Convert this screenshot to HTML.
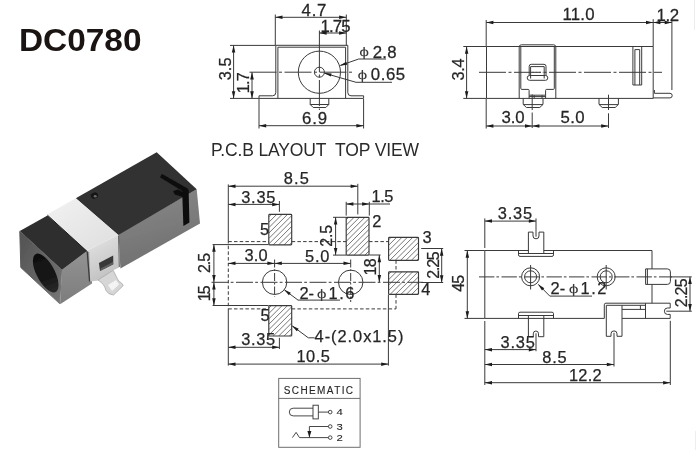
<!DOCTYPE html>
<html lang="en"><head><meta charset="utf-8"><title>DC0780</title>
<style>
html,body{margin:0;padding:0;background:#fff;}
body{width:700px;height:450px;overflow:hidden;}
svg{display:block;will-change:transform;}
text{white-space:pre;}
</style></head>
<body>
<svg width="700" height="450" viewBox="0 0 700 450">
<rect width="700" height="450" fill="#fff"/>
<g font-family="'Liberation Sans', sans-serif">
<text transform="translate(18.90 51.30) scale(1.045 1)" font-size="32" font-weight="bold" fill="#1a1412">DC0780</text>
<text transform="translate(210.97 155.60)" font-size="17.5" textLength="208.05" fill="#2a2a2a">P.C.B LAYOUT  TOP VIEW</text>
</g>
<defs>
<linearGradient id="gf" x1="0" y1="0" x2="1" y2="1"><stop offset="0" stop-color="#525252"/><stop offset="1" stop-color="#767676"/></linearGradient>
<linearGradient id="gs1" x1="0" y1="0" x2="0" y2="1"><stop offset="0" stop-color="#939393"/><stop offset="1" stop-color="#7c7c7c"/></linearGradient>
<linearGradient id="gs2" x1="0" y1="0" x2="0.3" y2="1"><stop offset="0" stop-color="#8a8a8a"/><stop offset="1" stop-color="#707070"/></linearGradient>
<linearGradient id="gb" x1="0" y1="0" x2="1" y2="1"><stop offset="0" stop-color="#f2f2f2"/><stop offset="1" stop-color="#dedede"/></linearGradient>
<linearGradient id="gbs" x1="0" y1="0" x2="0.4" y2="1"><stop offset="0" stop-color="#e6e6e6"/><stop offset="1" stop-color="#c2c2c2"/></linearGradient>
<linearGradient id="gh" x1="0" y1="0" x2="1" y2="1"><stop offset="0" stop-color="#0c0c0c"/><stop offset="0.6" stop-color="#181818"/><stop offset="1" stop-color="#343434"/></linearGradient>
<filter id="bl" x="-5%" y="-5%" width="110%" height="110%"><feGaussianBlur stdDeviation="0.45"/></filter>
</defs>
<g filter="url(#bl)">
<polygon points="118.5,234 196.7,189.3 200,223.5 120.4,268.5" fill="url(#gs2)"/>
<polygon points="75.8,198.3 156.7,152.2 196.7,189.3 118.3,235" fill="#303030"/>
<polygon points="160,177.3 162,173.9 188,188.8 186,193.2" fill="#0c0c0c"/>
<polygon points="182.2,192 188.6,189.2 189.4,222.6 183.4,226" fill="#0c0c0c"/>
<polygon points="173,191.2 178,189.5 186,193.6 182.2,196.8 175,194.6" fill="#0c0c0c"/>
<ellipse cx="94.4" cy="195.6" rx="3.6" ry="3" fill="#151515" transform="rotate(-25 94.4 195.6)"/>
<ellipse cx="95.2" cy="196.2" rx="1.5" ry="1.2" fill="#6a6a6a"/>
<polygon points="61.8,270 87,251 92,252 92,283.5 60.1,304.2" fill="url(#gs1)"/>
<polygon points="19.8,231 47.5,215.5 87,251 61.8,270" fill="#2f2f2f"/>
<polygon points="19.8,231.3 61.5,269.6 59.6,303.6 20.8,267.5" fill="url(#gf)" stroke="url(#gf)" stroke-width="1" stroke-linejoin="round"/>
<circle cx="0" cy="0" r="1" transform="matrix(12.8 11.6 0.4 15.6 45.7 273)" fill="url(#gh)"/>
<polygon points="86.7,250.8 118.3,235 119,267.4 113.2,270.3 98,280.5 90,281.5 89.2,252" fill="url(#gbs)"/>
<polygon points="47.5,214.2 75.8,198.3 118.3,235 86.7,250.8" fill="url(#gb)"/>
<path d="M87.2,251.5 L89.6,281.5" stroke="#3a3a3a" stroke-width="1.3" fill="none"/>
<path d="M47.5,215.2 L87,251.3" stroke="#1e1e1e" stroke-width="1" fill="none"/>
<path d="M118.6,235.5 L119.3,267" stroke="#555" stroke-width="1" fill="none"/>
<polygon points="98.9,263 113.2,255.5 113.3,264.3 100,271.1" fill="#383838"/>
<polygon points="101,268.2 113,262 113.3,264.2 100,271" fill="#5e5e5e"/>
<path d="M98,280 L113.2,270.3 L116.7,277.4 Q118,281.5 122,283.5 L123.2,285.6 L113.5,295 Q108,294.5 106,290.5 Q104.5,284 98,280 Z" fill="#d6d6d6" stroke="#a8a8a8" stroke-width="0.8"/>
<path d="M108,285 L116,280 L119,284.5 L112,291 Z" fill="#f4f4f4"/>
</g>
<g stroke="#3a3a3a" stroke-width="1" fill="none" stroke-linecap="butt">
<line x1="275.3" y1="14.5" x2="275.3" y2="45.5"/>
<line x1="346.3" y1="14.5" x2="346.3" y2="45.5"/>
<line x1="275.3" y1="17.3" x2="346.3" y2="17.3"/>
<polygon points="275.3,17.3 282.5,15.6 282.5,19.1" fill="#1c1c1c" stroke="none"/>
<polygon points="346.3,17.3 339.1,15.6 339.1,19.1" fill="#1c1c1c" stroke="none"/>
<line x1="319.4" y1="30.5" x2="319.4" y2="46"/>
<line x1="319.4" y1="33" x2="346.3" y2="33"/>
<polygon points="319.4,33.0 326.6,31.2 326.6,34.8" fill="#1c1c1c" stroke="none"/>
<polygon points="346.3,33.0 339.1,31.2 339.1,34.8" fill="#1c1c1c" stroke="none"/>
<path d="M259,95.8 H272.5 Q275.8,95.8 275.8,92.5 V45.3 H347.8 V92.5 Q347.8,95.8 351,95.8 H363.6 V98.4 H259 Z"/>
<path d="M277.9,98.4 V47.2 H345.6 V98.4"/>
<circle cx="319.4" cy="72.2" r="21.1"/>
<circle cx="319.4" cy="72.2" r="5"/>
<line x1="249.5" y1="72.2" x2="354" y2="72.2" stroke-dasharray="27 2.5 3 2.5"/>
<line x1="319.4" y1="46" x2="319.4" y2="110" stroke-dasharray="26 2.5 3 2.5"/>
<path d="M310.2,98.4 V104.5 L313.2,107.5 H325.8 L328.8,104.5 V98.4 M310.2,104.5 H328.8"/>
<line x1="230" y1="45.4" x2="275.5" y2="45.4"/>
<line x1="230" y1="98.4" x2="259" y2="98.4"/>
<line x1="233.6" y1="45.4" x2="233.6" y2="98.4"/>
<polygon points="233.6,45.4 231.8,52.6 235.3,52.6" fill="#1c1c1c" stroke="none"/>
<polygon points="233.6,98.4 231.8,91.2 235.3,91.2" fill="#1c1c1c" stroke="none"/>
<line x1="252" y1="72.2" x2="252" y2="98.4"/>
<polygon points="252.0,72.2 250.2,79.4 253.8,79.4" fill="#1c1c1c" stroke="none"/>
<polygon points="252.0,98.4 250.2,91.2 253.8,91.2" fill="#1c1c1c" stroke="none"/>
<line x1="259" y1="99" x2="259" y2="128.5"/>
<line x1="363.6" y1="99" x2="363.6" y2="128.5"/>
<line x1="259" y1="125.7" x2="363.6" y2="125.7"/>
<polygon points="259.0,125.7 266.2,124.0 266.2,127.5" fill="#1c1c1c" stroke="none"/>
<polygon points="363.6,125.7 356.4,124.0 356.4,127.5" fill="#1c1c1c" stroke="none"/>
<path d="M386,59 H358.7 L340.4,65.4"/>
<polygon points="339.6,65.7 346.2,61.7 347.2,64.7" fill="#1c1c1c" stroke="none"/>
<path d="M392,82.3 H356 L324.5,73.2"/>
<polygon points="324.0,73.0 331.6,73.5 330.8,76.6" fill="#1c1c1c" stroke="none"/>
<line x1="486.2" y1="20" x2="486.2" y2="46"/>
<line x1="653.2" y1="19.2" x2="653.2" y2="46.5"/>
<line x1="671.9" y1="19.2" x2="671.9" y2="90"/>
<line x1="486.2" y1="22.5" x2="671.9" y2="22.5"/>
<polygon points="486.2,22.5 493.4,20.8 493.4,24.2" fill="#1c1c1c" stroke="none"/>
<polygon points="653.2,22.5 646.0,20.8 646.0,24.2" fill="#1c1c1c" stroke="none"/>
<polygon points="653.2,22.5 660.4,20.8 660.4,24.2" fill="#1c1c1c" stroke="none"/>
<polygon points="671.9,22.5 664.7,20.8 664.7,24.2" fill="#1c1c1c" stroke="none"/>
<path d="M486.5,46.5 H653.2 V98.4 H486.5 Z"/>
<path d="M519.2,98.4 V47 Q519.2,44.8 521.4,44.8 H553.6 Q555.8,44.8 555.8,47 V98.4"/>
<path d="M520.8,46.5 V88.4 Q520.8,89.4 521.8,89.4 H528.1 Q529.1,89.4 529.1,90.4 V95.2"/>
<path d="M554.3,46.5 V88.4 Q554.3,89.4 553.3,89.4 H546.6 Q545.6,89.4 545.6,90.4 V95.2"/>
<path d="M529.2,75.5 V66.3 Q529.2,64.3 531.2,64.3 H544 Q546,64.3 546,66.3 V75.5"/>
<path d="M529.6,75.5 H545.6 Q547.8,75.5 547.8,77.9 Q547.8,80.3 545.6,80.3 H529.6 Q527.2,80.3 527.2,77.9 Q527.2,75.5 529.6,75.5 Z"/>
<path d="M530.6,78.5 V66.6 H544.2 V78.5"/>
<line x1="532" y1="72.3" x2="543" y2="72.3" stroke="#999" stroke-dasharray="2 1.5"/>
<path d="M523.2,98.4 V104.4 L526.4000000000001,107.5 H539.8 L543,104.4 V98.4 M523.2,104.6 H543"/>
<path d="M529.1,95.2 H545.6 M529.1,95.2 V98.4 M545.6,95.2 V98.4 M534.2,95.2 V98.4 M542,95.2 V98.4 M529.1,96.6 H545.6"/>
<path d="M599,98.4 V104.4 L602.2,107.5 H615.1999999999999 L618.4,104.4 V98.4 M599,104.6 H618.4"/>
<path d="M632.9,46.5 V85 H641.7 V46.5 M634.9,85 V49.6 H639.7 V85"/>
<path d="M654.4,90 V93.3 H670 Q672.2,93.3 672.2,95.6 Q672.2,97.9 670,97.9 H653.2"/>
<line x1="479" y1="72.3" x2="662" y2="72.3" stroke-dasharray="27 2.5 3 2.5"/>
<line x1="532.2" y1="94.4" x2="532.2" y2="110"/>
<line x1="532.2" y1="112.5" x2="532.2" y2="128"/>
<line x1="608.5" y1="94.7" x2="608.5" y2="110"/>
<line x1="608.5" y1="113.3" x2="608.5" y2="128"/>
<line x1="463.3" y1="46.5" x2="486.5" y2="46.5"/>
<line x1="463.3" y1="98.4" x2="486.5" y2="98.4"/>
<line x1="466.6" y1="46.5" x2="466.6" y2="98.4"/>
<polygon points="466.6,46.5 464.9,53.7 468.4,53.7" fill="#1c1c1c" stroke="none"/>
<polygon points="466.6,98.4 464.9,91.2 468.4,91.2" fill="#1c1c1c" stroke="none"/>
<line x1="486.2" y1="99" x2="486.2" y2="128.5"/>
<line x1="486.2" y1="126" x2="608.4" y2="126"/>
<polygon points="486.2,126.0 493.4,124.2 493.4,127.8" fill="#1c1c1c" stroke="none"/>
<polygon points="532.2,126.0 525.0,124.2 525.0,127.8" fill="#1c1c1c" stroke="none"/>
<polygon points="532.2,126.0 539.4,124.2 539.4,127.8" fill="#1c1c1c" stroke="none"/>
<polygon points="608.4,126.0 601.2,124.2 601.2,127.8" fill="#1c1c1c" stroke="none"/>
<path d="M268.8,216.9 L271.3,214.4 M268.8,222.3 L276.7,214.4 M268.8,227.7 L282.1,214.4 M268.8,233.1 L287.5,214.4 M268.8,238.5 L291.7,215.6 M268.8,243.9 L291.7,221.0 M273.2,244.9 L291.7,226.4 M278.6,244.9 L291.7,231.8 M284.0,244.9 L291.7,237.2 M289.4,244.9 L291.7,242.6" stroke-width="0.75" stroke="#4a4a4a"/>
<rect x="268.8" y="214.4" width="22.9" height="30.5" rx="0.8" stroke-width="1.15"/>
<path d="M346.2,219.8 L348.7,217.3 M346.2,225.2 L354.1,217.3 M346.2,230.6 L359.5,217.3 M346.2,236.0 L364.9,217.3 M346.2,241.4 L369.0,218.6 M346.2,246.8 L369.0,224.0 M346.2,252.2 L369.0,229.4 M348.7,255.1 L369.0,234.8 M354.1,255.1 L369.0,240.2 M359.5,255.1 L369.0,245.6 M364.9,255.1 L369.0,251.0" stroke-width="0.75" stroke="#4a4a4a"/>
<rect x="346.2" y="217.3" width="22.8" height="37.8" rx="0.8" stroke-width="1.15"/>
<path d="M388.6,239.9 L391.1,237.4 M388.6,245.3 L396.5,237.4 M388.6,250.7 L401.9,237.4 M388.6,256.1 L407.3,237.4 M389.8,260.3 L412.7,237.4 M395.2,260.3 L418.1,237.4 M400.6,260.3 L418.5,242.4 M406.0,260.3 L418.5,247.8 M411.4,260.3 L418.5,253.2 M416.8,260.3 L418.5,258.6" stroke-width="0.75" stroke="#4a4a4a"/>
<rect x="388.6" y="237.4" width="29.9" height="22.9" rx="0.8" stroke-width="1.15"/>
<path d="M388.6,274.3 L391.1,271.8 M388.6,279.7 L396.5,271.8 M388.6,285.1 L401.9,271.8 M388.6,290.5 L407.3,271.8 M390.1,294.4 L412.7,271.8 M395.5,294.4 L418.1,271.8 M400.9,294.4 L418.5,276.8 M406.3,294.4 L418.5,282.2 M411.7,294.4 L418.5,287.6 M417.1,294.4 L418.5,293.0" stroke-width="0.75" stroke="#4a4a4a"/>
<rect x="388.6" y="271.8" width="29.9" height="22.6" rx="0.8" stroke-width="1.15"/>
<path d="M268.8,308.1 L271.3,305.6 M268.8,313.5 L276.7,305.6 M268.8,318.9 L282.1,305.6 M268.8,324.3 L287.5,305.6 M268.8,329.7 L291.7,306.8 M268.8,335.1 L291.7,312.2 M273.3,336.0 L291.7,317.6 M278.7,336.0 L291.7,323.0 M284.1,336.0 L291.7,328.4 M289.5,336.0 L291.7,333.8" stroke-width="0.75" stroke="#4a4a4a"/>
<rect x="268.8" y="305.6" width="22.9" height="30.4" rx="0.8" stroke-width="1.15"/>
<line x1="228.3" y1="184.4" x2="228.3" y2="240"/>
<line x1="228.3" y1="240" x2="228.3" y2="311" stroke-dasharray="3.5 2.2"/>
<line x1="228.3" y1="311" x2="228.3" y2="365.6"/>
<line x1="228.3" y1="241.6" x2="268.8" y2="241.6" stroke-dasharray="3.5 2.2"/>
<line x1="291.7" y1="241.6" x2="346" y2="241.6" stroke-dasharray="3.5 2.2"/>
<line x1="369" y1="241.6" x2="388.6" y2="241.6" stroke-dasharray="3.5 2.2"/>
<line x1="228.3" y1="308.9" x2="268.8" y2="308.9" stroke-dasharray="3.5 2.2"/>
<line x1="291.7" y1="308.9" x2="396" y2="308.9" stroke-dasharray="3.5 2.2"/>
<line x1="396" y1="260.3" x2="396" y2="271.8" stroke-dasharray="3.5 2.2"/>
<line x1="396" y1="294.4" x2="396" y2="308.9" stroke-dasharray="3.5 2.2"/>
<line x1="228.3" y1="186.2" x2="357.8" y2="186.2"/>
<polygon points="228.3,186.2 235.5,184.4 235.5,187.9" fill="#1c1c1c" stroke="none"/>
<polygon points="357.8,186.2 350.6,184.4 350.6,187.9" fill="#1c1c1c" stroke="none"/>
<line x1="357.8" y1="183.8" x2="357.8" y2="214.4"/>
<line x1="228.3" y1="204.4" x2="279.4" y2="204.4"/>
<polygon points="228.3,204.4 235.5,202.7 235.5,206.2" fill="#1c1c1c" stroke="none"/>
<polygon points="279.4,204.4 272.2,202.7 272.2,206.2" fill="#1c1c1c" stroke="none"/>
<line x1="279.4" y1="201" x2="279.4" y2="211.8"/>
<line x1="346.2" y1="201.8" x2="346.2" y2="215.6"/>
<line x1="369.3" y1="201.8" x2="369.3" y2="215.6"/>
<line x1="346.2" y1="204" x2="390" y2="204"/>
<polygon points="346.2,204.0 353.4,202.2 353.4,205.8" fill="#1c1c1c" stroke="none"/>
<polygon points="369.3,204.0 362.1,202.2 362.1,205.8" fill="#1c1c1c" stroke="none"/>
<line x1="333" y1="217.3" x2="346.2" y2="217.3"/>
<line x1="333" y1="255.1" x2="346.2" y2="255.1"/>
<line x1="335.6" y1="217.3" x2="335.6" y2="255.1"/>
<polygon points="335.6,217.3 333.9,224.5 337.4,224.5" fill="#1c1c1c" stroke="none"/>
<polygon points="335.6,255.1 333.9,247.9 337.4,247.9" fill="#1c1c1c" stroke="none"/>
<line x1="212.6" y1="244.6" x2="268.5" y2="244.6"/>
<line x1="212.6" y1="305.5" x2="268.5" y2="305.5"/>
<line x1="213.9" y1="244.6" x2="213.9" y2="305.5"/>
<polygon points="213.9,244.6 212.2,251.8 215.7,251.8" fill="#1c1c1c" stroke="none"/>
<polygon points="213.9,282.3 212.2,275.1 215.7,275.1" fill="#1c1c1c" stroke="none"/>
<polygon points="213.9,282.3 212.2,289.5 215.7,289.5" fill="#1c1c1c" stroke="none"/>
<polygon points="213.9,305.5 212.2,298.3 215.7,298.3" fill="#1c1c1c" stroke="none"/>
<line x1="211.5" y1="282.3" x2="423" y2="282.3" stroke-dasharray="17 2.2 2.8 2.5"/>
<line x1="228.3" y1="263.4" x2="350.7" y2="263.4"/>
<polygon points="228.3,263.4 235.5,261.6 235.5,265.1" fill="#1c1c1c" stroke="none"/>
<polygon points="274.6,263.4 267.4,261.6 267.4,265.1" fill="#1c1c1c" stroke="none"/>
<polygon points="274.6,263.4 281.8,261.6 281.8,265.1" fill="#1c1c1c" stroke="none"/>
<polygon points="350.7,263.4 343.5,261.6 343.5,265.1" fill="#1c1c1c" stroke="none"/>
<circle cx="274.6" cy="282.3" r="12.2"/>
<circle cx="350.7" cy="282.3" r="12.2"/>
<line x1="274.6" y1="259.5" x2="274.6" y2="297" stroke-dasharray="8 2 1.5 2"/>
<line x1="350.7" y1="259.5" x2="350.7" y2="302" stroke-dasharray="8 2 1.5 2"/>
<path d="M340,300.1 H298 L284.6,290"/>
<polygon points="283.9,289.4 290.8,292.7 288.9,295.2" fill="#1c1c1c" stroke="none"/>
<line x1="369.3" y1="255" x2="380.6" y2="255"/>
<line x1="379.3" y1="255" x2="379.3" y2="282.3"/>
<polygon points="379.3,255.0 377.6,262.2 381.1,262.2" fill="#1c1c1c" stroke="none"/>
<polygon points="379.3,282.3 377.6,275.1 381.1,275.1" fill="#1c1c1c" stroke="none"/>
<line x1="421.2" y1="248.5" x2="443.2" y2="248.5"/>
<line x1="421.2" y1="282.5" x2="443.2" y2="282.5"/>
<line x1="441.7" y1="248.5" x2="441.7" y2="282.5"/>
<polygon points="441.7,248.5 439.9,255.7 443.4,255.7" fill="#1c1c1c" stroke="none"/>
<polygon points="441.7,282.5 439.9,275.3 443.4,275.3" fill="#1c1c1c" stroke="none"/>
<line x1="388.4" y1="294.6" x2="388.4" y2="365.6"/>
<line x1="228.3" y1="347.3" x2="279.4" y2="347.3"/>
<polygon points="228.3,347.3 235.5,345.6 235.5,349.1" fill="#1c1c1c" stroke="none"/>
<polygon points="279.4,347.3 272.2,345.6 272.2,349.1" fill="#1c1c1c" stroke="none"/>
<line x1="279.4" y1="337.8" x2="279.4" y2="349"/>
<line x1="228.3" y1="364.1" x2="388.4" y2="364.1"/>
<polygon points="228.3,364.1 235.5,362.4 235.5,365.9" fill="#1c1c1c" stroke="none"/>
<polygon points="388.4,364.1 381.2,362.4 381.2,365.9" fill="#1c1c1c" stroke="none"/>
<path d="M314.5,337.8 H308.3 L292.4,326"/>
<polygon points="291.7,325.6 298.7,328.8 296.8,331.3" fill="#1c1c1c" stroke="none"/>
<path d="M528.4,250.5 H484.8 V318.4 H604.3 M622,318.4 H670.2 M543.8,250.5 H652 V268.9 M652,284.4 V303.2"/>
<path d="M528.4,253.5 V232.1 H533 V236 Q533,238.8 536,238.8 Q539,238.8 539,236 V232.1 H543.8 V253.5"/>
<path d="M518.5,250.5 V254.9 Q518.5,256.4 520,256.4 H552 Q553.5,256.4 553.5,254.9 V250.5 M518.5,253.5 H553.5"/>
<path d="M528.4,315.5 V336.7 H533.3 V333.8 Q533.3,331 535.9,331 Q538.5,331 538.5,333.8 V336.7 H543.8 V315.5"/>
<path d="M518.5,318.4 V313.7 Q518.5,312.2 520,312.2 H552 Q553.5,312.2 553.5,313.7 V318.4 M518.5,315.5 H553.5"/>
<circle cx="530.6" cy="276.8" r="9"/>
<circle cx="530.6" cy="276.8" r="6"/>
<line x1="530.6" y1="265" x2="530.6" y2="289.5"/>
<circle cx="606.2" cy="276.8" r="9"/>
<circle cx="606.2" cy="276.8" r="6"/>
<line x1="606.2" y1="265" x2="606.2" y2="289.5"/>
<line x1="479" y1="276.9" x2="672" y2="276.9" stroke-dasharray="15.4 2 2.6 2.5"/>
<path d="M652,268.9 H667.4 Q670.4,268.9 670.4,271.9 V281.4 Q670.4,284.4 667.4,284.4 H645.6 V268.9 H652 M647.4,268.9 V284.4"/>
<path d="M604.3,318.4 V304.8 Q604.3,303.2 605.9,303.2 H670.2 V308 H667.4 Q664.4,308 664.4,311.2 Q664.4,314.4 667.4,314.4 H670.2 V318.4"/>
<path d="M606.3,336.3 V305.3 H645.5 M645.5,303.2 V318.4 M622,305.3 V336.3 M622,309.4 H645.5 M640.4,305.3 V309.4"/>
<path d="M606.3,336.3 H611 V333.8 Q611,330.9 614,330.9 Q617,330.9 617,333.8 V336.3 H622"/>
<path d="M592,296.1 H549.8 L538.4,284.5"/>
<polygon points="537.9,284.0 544.3,288.2 542.0,290.5" fill="#1c1c1c" stroke="none"/>
<line x1="464.5" y1="250.5" x2="484.8" y2="250.5"/>
<line x1="464.5" y1="318.4" x2="484.8" y2="318.4"/>
<line x1="467.3" y1="250.5" x2="467.3" y2="318.4"/>
<polygon points="467.3,250.5 465.6,257.7 469.1,257.7" fill="#1c1c1c" stroke="none"/>
<polygon points="467.3,318.4 465.6,311.2 469.1,311.2" fill="#1c1c1c" stroke="none"/>
<line x1="484.8" y1="218.4" x2="484.8" y2="248"/>
<line x1="536" y1="218.4" x2="536" y2="236.7"/>
<line x1="484.8" y1="221.1" x2="536" y2="221.1"/>
<polygon points="484.8,221.1 492.0,219.3 492.0,222.8" fill="#1c1c1c" stroke="none"/>
<polygon points="536.0,221.1 528.8,219.3 528.8,222.8" fill="#1c1c1c" stroke="none"/>
<line x1="484.8" y1="321" x2="484.8" y2="385"/>
<line x1="536" y1="333.3" x2="536" y2="351.2"/>
<line x1="614" y1="332.8" x2="614" y2="366.5"/>
<line x1="670.3" y1="320.8" x2="670.3" y2="385"/>
<line x1="484.8" y1="349.6" x2="536" y2="349.6"/>
<polygon points="484.8,349.6 492.0,347.9 492.0,351.4" fill="#1c1c1c" stroke="none"/>
<polygon points="536.0,349.6 528.8,347.9 528.8,351.4" fill="#1c1c1c" stroke="none"/>
<line x1="484.8" y1="364.5" x2="614" y2="364.5"/>
<polygon points="484.8,364.5 492.0,362.8 492.0,366.2" fill="#1c1c1c" stroke="none"/>
<polygon points="614.0,364.5 606.8,362.8 606.8,366.2" fill="#1c1c1c" stroke="none"/>
<line x1="484.8" y1="382.7" x2="670.3" y2="382.7"/>
<polygon points="484.8,382.7 492.0,380.9 492.0,384.4" fill="#1c1c1c" stroke="none"/>
<polygon points="670.3,382.7 663.1,380.9 663.1,384.4" fill="#1c1c1c" stroke="none"/>
<line x1="671" y1="276.9" x2="691.8" y2="276.9"/>
<line x1="666.3" y1="311.2" x2="691.8" y2="311.2"/>
<line x1="690" y1="276.9" x2="690" y2="311.2"/>
<polygon points="690.0,276.9 688.2,284.1 691.8,284.1" fill="#1c1c1c" stroke="none"/>
<polygon points="690.0,311.2 688.2,304.0 691.8,304.0" fill="#1c1c1c" stroke="none"/>
</g>
<line x1="694.5" y1="0" x2="694.5" y2="30" stroke="#ececec" stroke-width="1"/>
<line x1="695.5" y1="431" x2="695.5" y2="450" stroke="#eeeeee" stroke-width="1"/>
<g stroke="#6e6e6e" fill="none" stroke-width="1">
<rect x="278.7" y="378.4" width="81.4" height="68.9"/>
<line x1="278.7" y1="398.4" x2="360.1" y2="398.4"/>
</g>
<g stroke="#333" fill="none" stroke-width="0.9">
<path d="M313,408.2 H293.2 Q289.3,408.2 289.3,412.05 Q289.3,415.9 293.2,415.9 H313"/>
<rect x="313" y="405.2" width="5.3" height="13.7"/>
<line x1="318.3" y1="412.1" x2="328.4" y2="412.1"/>
<circle cx="330.2" cy="412.1" r="1.8"/>
<path d="M328.4,426.5 H309.4 V437.6"/>
<circle cx="330.2" cy="426.5" r="1.8"/>
<path d="M292.4,437.6 L296.1,432.4 L299.5,437.6 H328.4"/>
<circle cx="330.2" cy="437.6" r="1.8"/>
</g>
<polygon points="309.4,437.4 307.4,431 311.4,431" fill="#1c1c1c"/>
<g font-family="'Liberation Sans', sans-serif" fill="#262626" stroke="#262626" stroke-width="0.25">
<text transform="translate(301.60 15.60) scale(1.05 1)" font-size="16.0" textLength="23.63">4.7</text>
<text transform="translate(320.50 31.60) scale(1.05 1)" font-size="16.0" textLength="28.58">1.75</text>
<text transform="translate(302.10 123.60) scale(1.05 1)" font-size="16.0" textLength="23.82">6.9</text>
<text transform="translate(231.00 80.19) rotate(-90)" font-size="16.3" textLength="22.68">3.5</text>
<text transform="translate(248.70 93.19) rotate(-90)" font-size="16.3" textLength="20.98">1.7</text>
<text x="359.4" y="56.4" font-size="13.5" stroke="none" fill="#3a3a3a" transform="translate(360 0) scale(1.3 1) translate(-360 0)">ϕ</text>
<text transform="translate(372.80 57.60) scale(1.05 1)" font-size="16.0" textLength="22.58">2.8</text>
<text x="357.79999999999995" y="79.2" font-size="13.5" stroke="none" fill="#3a3a3a" transform="translate(358.4 0) scale(1.3 1) translate(-358.4 0)">ϕ</text>
<text transform="translate(370.80 80.20) scale(1.05 1)" font-size="16.0" textLength="32.77">0.65</text>
<text transform="translate(562.50 19.90) scale(1.05 1)" font-size="16.0" textLength="30.48">11.0</text>
<text transform="translate(656.50 21.00) scale(1.05 1)" font-size="16.0" textLength="21.53">1.2</text>
<text transform="translate(464.30 80.49) rotate(-90)" font-size="16.3" textLength="21.98">3.4</text>
<text transform="translate(501.50 123.10) scale(1.05 1)" font-size="16.0" textLength="21.91">3.0</text>
<text transform="translate(560.50 123.10) scale(1.05 1)" font-size="16.0" textLength="22.86">5.0</text>
<text transform="translate(283.81 184.30)" font-size="16.4" textLength="24.98">8.5</text>
<text transform="translate(241.21 202.50)" font-size="16.4" textLength="34.28">3.35</text>
<text transform="translate(371.51 201.50)" font-size="16.4" textLength="21.98">1.5</text>
<text transform="translate(260.00 235.40)" font-size="16.4">5</text>
<text transform="translate(372.20 227.20)" font-size="16.4">2</text>
<text transform="translate(422.50 243.10)" font-size="16.4">3</text>
<text transform="translate(421.20 294.70)" font-size="16.4">4</text>
<text transform="translate(332.40 246.78) rotate(-90)" font-size="16.0" textLength="21.96">2.5</text>
<text transform="translate(210.40 272.98) rotate(-90)" font-size="16.0" textLength="20.16">2.5</text>
<text transform="translate(210.40 301.28) rotate(-90)" font-size="16.0" textLength="15.96">15</text>
<text transform="translate(244.51 261.10)" font-size="16.4" textLength="23.18">3.0</text>
<text transform="translate(305.01 261.70)" font-size="16.4" textLength="24.38">5.0</text>
<text transform="translate(299.40 298.80)" font-size="16.4">2-</text>
<text x="316.9" y="297.7" font-size="13.5" stroke="none" fill="#3a3a3a" transform="translate(317.5 0) scale(1.3 1) translate(-317.5 0)">ϕ</text>
<text transform="translate(328.51 298.80)" font-size="16.4" textLength="25.98">1.6</text>
<text transform="translate(376.10 275.38) rotate(-90)" font-size="16.0" textLength="16.96">18</text>
<text transform="translate(438.90 278.78) rotate(-90)" font-size="16.0" textLength="27.56">2.25</text>
<text transform="translate(260.60 320.80)" font-size="16.4">5</text>
<text transform="translate(241.21 345.40)" font-size="16.4" textLength="33.98">3.35</text>
<text transform="translate(296.51 362.10)" font-size="16.4" textLength="33.28">10.5</text>
<text transform="translate(314.61 342.10)" font-size="16.4" textLength="88.78">4-(2.0x1.5)</text>
<text transform="translate(497.71 219.40)" font-size="16.4" textLength="34.38">3.35</text>
<text transform="translate(464.40 291.68) rotate(-90)" font-size="16.0" textLength="16.96">45</text>
<text transform="translate(550.60 294.30)" font-size="16.4">2-</text>
<text x="568.9" y="293.2" font-size="13.5" stroke="none" fill="#3a3a3a" transform="translate(569.5 0) scale(1.3 1) translate(-569.5 0)">ϕ</text>
<text transform="translate(580.51 294.30)" font-size="16.4" textLength="25.98">1.2</text>
<text transform="translate(500.61 347.80)" font-size="16.4" textLength="34.28">3.35</text>
<text transform="translate(542.21 362.70)" font-size="16.4" textLength="24.48">8.5</text>
<text transform="translate(568.91 381.00)" font-size="16.4" textLength="32.78">12.2</text>
<text transform="translate(686.80 307.18) rotate(-90)" font-size="16.0" textLength="28.76">2.25</text>
<text transform="translate(283.70 393.60)" font-size="10" textLength="69.40" stroke-width="0.12">SCHEMATIC</text>
<text transform="translate(336.60 415.30) scale(1.18 1)" font-size="9.6" stroke-width="0.1">4</text>
<text transform="translate(336.60 429.60) scale(1.18 1)" font-size="9.6" stroke-width="0.1">3</text>
<text transform="translate(336.60 441.10) scale(1.18 1)" font-size="9.6" stroke-width="0.1">2</text>
</g>
</svg>
</body></html>
